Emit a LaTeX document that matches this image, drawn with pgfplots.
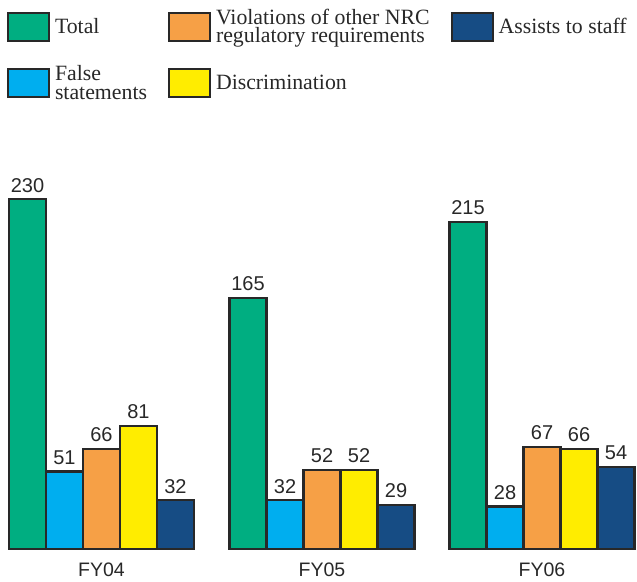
\documentclass[border=0pt]{standalone}
\usepackage{fontspec}
\setmainfont{Liberation Serif}
\newfontfamily\arialfont{Liberation Sans}
\usepackage{pgfplots}
\usepackage{pgfplotstable}
\pgfplotsset{compat=1.18}

\definecolor{cTotal}{RGB}{0,174,129}
\definecolor{cFalse}{RGB}{0,174,239}
\definecolor{cViol}{RGB}{246,160,70}
\definecolor{cDisc}{RGB}{255,237,0}
\definecolor{cAssist}{RGB}{22,76,132}
\definecolor{edge}{RGB}{40,40,40}
\definecolor{txt}{RGB}{40,40,40}

% x = group centre (in px of the original), one column per series
\pgfplotstableread{
x     total false viol disc assist
101.5 230   51    66   81   32
322   165   32    52   52   29
542   215   28    67   66   54
}\data

\pgfplotsset{
  mybar/.style n args={2}{ybar, bar width=37, bar shift=#2, fill=#1, draw=edge, line width=2.2pt,
    every node near coord/.append style={xshift=#2pt},
    legend image code/.code={\draw[fill=#1, draw=edge, line width=2pt] (0pt,-14pt) rectangle (41pt,14pt);}},
}

\begin{document}
\begin{tikzpicture}
\path[use as bounding box] (0,0) rectangle (637pt,581pt);
\begin{axis}[
  at={(0pt,32pt)}, anchor=south west,
  x=1pt, y=1.52pt,
  xmin=0, xmax=637, ymin=0, ymax=361.18,
  clip=false,
  axis line style={draw=none},
  ytick=\empty,
  xtick={101.5,322,542},
  xticklabels={FY04,FY05,FY06},
  major tick length=0pt,
  xticklabel style={font=\arialfont\fontsize{19.5}{20}\selectfont, text=txt, inner sep=0pt, yshift=-14pt},
  nodes near coords,
  nodes near coords style={font=\arialfont\fontsize{20}{20}\selectfont, text=txt, anchor=south, inner sep=0pt, yshift=6pt},
  /pgf/number format/assume math mode=true,
  legend columns=3,
  legend cell align=left,
  legend style={at={(0.011,0.984)}, anchor=north west, draw=none, fill=none,
    inner sep=0pt, outer sep=0pt,
    font=\fontsize{21.8}{18.8}\selectfont, text=txt,
    nodes={align=left, inner sep=0pt},
    /tikz/every odd column/.append style={column sep=5pt},
    /tikz/every even column/.append style={column sep=21pt},
    row sep=21pt},
]
\addplot[mybar={cTotal}{-74}] table[x=x, y=total] {\data};
\addlegendentry{Total}
\addplot[mybar={cViol}{0}] table[x=x, y=viol] {\data};
\addlegendentry{Violations of other NRC\\regulatory requirements}
\addplot[mybar={cAssist}{74}] table[x=x, y=assist] {\data};
\addlegendentry{Assists to staff}
\addplot[mybar={cFalse}{-37}] table[x=x, y=false] {\data};
\addlegendentry{False\\statements}
\addplot[mybar={cDisc}{37}] table[x=x, y=disc] {\data};
\addlegendentry{Discrimination}

\draw[edge, line width=2.2pt] (axis cs:8,0) -- (axis cs:195,0);
\draw[edge, line width=2.2pt] (axis cs:229,0) -- (axis cs:415,0);
\draw[edge, line width=2.2pt] (axis cs:449,0) -- (axis cs:635,0);
\end{axis}
\end{tikzpicture}
\end{document}
